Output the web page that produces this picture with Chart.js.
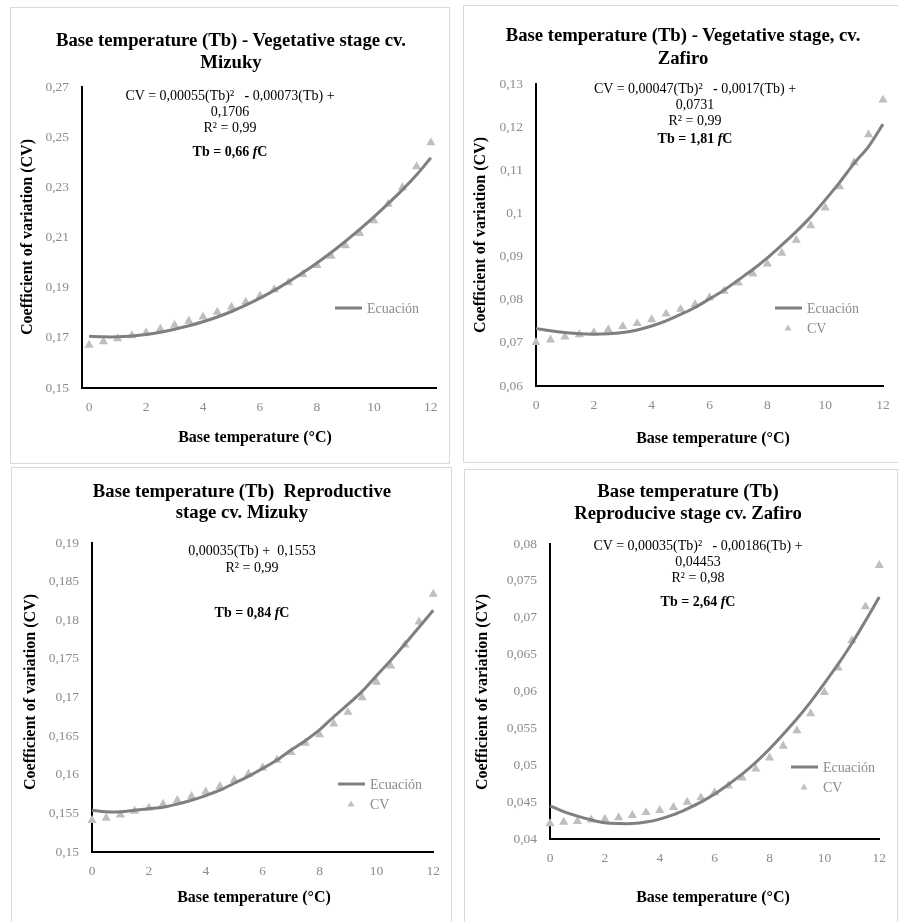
<!DOCTYPE html>
<html>
<head>
<meta charset="utf-8">
<script src="https://cdn.jsdelivr.net/npm/chart.js@4.4.0/dist/chart.umd.min.js"></script>
<style>
  html, body { margin: 0; padding: 0; background: #fff; }
  body {
    width: 898px; height: 922px; position: relative; overflow: hidden;
    font-family: "Liberation Serif", "Times New Roman", serif;
  }
  .panel { position: absolute; border: 1px solid #d9d9d9; box-sizing: border-box; background: #fff; }
  .panel canvas { position: absolute; left: 0; top: 0; }
  .txt { position: absolute; white-space: pre; transform: translate(-50%, -50%); color: #000; line-height: 1; }
  .title { font-size: 18.7px; font-weight: bold; }
  .axt { font-size: 16px; font-weight: bold; }
  .yaxt { transform: translate(-50%, -50%) rotate(-90deg); }
  .eq { font-size: 14px; }
  .tb { font-size: 14px; font-weight: bold; }
</style>
</head>
<body>

<div class="panel" id="box1"><canvas id="chart1"></canvas></div>
<div class="panel" id="box2"><canvas id="chart2"></canvas></div>
<div class="panel" id="box3"><canvas id="chart3"></canvas></div>
<div class="panel" id="box4"><canvas id="chart4"></canvas></div>

<script>
// Base temperatures (°C) on the x axis
const temps = [0, 0.5, 1, 1.5, 2, 2.5, 3, 3.5, 4, 4.5, 5, 5.5, 6, 6.5, 7, 7.5, 8, 8.5, 9, 9.5, 10, 10.5, 11, 11.5, 12];

// Vegetative stage, cv. Mizuky
const mizukyVegCV = [0.1671, 0.1685, 0.1697, 0.1709, 0.1720, 0.1735, 0.1751, 0.1767, 0.1784, 0.1803, 0.1823, 0.1843, 0.1867,
                     0.1892, 0.1920, 0.1953, 0.1989, 0.2026, 0.2068, 0.2117, 0.2167, 0.2233, 0.2299, 0.2383, 0.2478];
const mizukyVegEq = [0.1706, 0.1704, 0.1704, 0.1707, 0.1713, 0.1722, 0.1734, 0.1748, 0.1764, 0.1783, 0.1805, 0.1830, 0.1858,
                     0.1889, 0.1923, 0.1959, 0.1998, 0.2040, 0.2085, 0.2132, 0.2182, 0.2235, 0.2290, 0.2350, 0.2418];

// Vegetative stage, cv. Zafiro
const zafiroVegCV = [0.0701, 0.0707, 0.0714, 0.0719, 0.0724, 0.0731, 0.0738, 0.0745, 0.0754, 0.0767, 0.0778, 0.0789, 0.0805,
                     0.0820, 0.0839, 0.0860, 0.0883, 0.0908, 0.0938, 0.0972, 0.1013, 0.1062, 0.1118, 0.1183, 0.1263];
const zafiroVegEq = [0.0733, 0.0728, 0.0724, 0.0721, 0.0720, 0.0721, 0.0724, 0.0730, 0.0739, 0.0751, 0.0766, 0.0782, 0.0802,
                     0.0822, 0.0846, 0.0870, 0.0897, 0.0927, 0.0958, 0.0992, 0.1031, 0.1072, 0.1116, 0.1155, 0.1207];

// Reproductive stage, cv. Mizuky
const mizukyRepCV = [0.1541, 0.1544, 0.1548, 0.1553, 0.1557, 0.1562, 0.1567, 0.1572, 0.1578, 0.1585, 0.1593, 0.1601, 0.1609,
                     0.1619, 0.1629, 0.1641, 0.1652, 0.1666, 0.1681, 0.1700, 0.1720, 0.1741, 0.1768, 0.1798, 0.1834];
const mizukyRepEq = [0.1554, 0.1552, 0.1552, 0.1554, 0.1556, 0.1558, 0.1562, 0.1567, 0.1573, 0.1580, 0.1589, 0.1598, 0.1608,
                     0.1619, 0.1632, 0.1644, 0.1658, 0.1675, 0.1691, 0.1708, 0.1728, 0.1748, 0.1769, 0.1791, 0.1813];

// Reproductive stage, cv. Zafiro
const zafiroRepCV = [0.0421, 0.0423, 0.0424, 0.0426, 0.0427, 0.0429, 0.0432, 0.0436, 0.0439, 0.0443, 0.0450, 0.0456, 0.0463,
                     0.0472, 0.0483, 0.0495, 0.0510, 0.0526, 0.0547, 0.0570, 0.0599, 0.0632, 0.0669, 0.0715, 0.0771];
const zafiroRepEq = [0.0445, 0.0437, 0.0431, 0.0426, 0.0422, 0.0421, 0.0421, 0.0423, 0.0427, 0.0433, 0.0441, 0.0450, 0.0461,
                     0.0474, 0.0488, 0.0504, 0.0522, 0.0542, 0.0563, 0.0586, 0.0611, 0.0637, 0.0665, 0.0696, 0.0728];

const SERIF = '"Liberation Serif", "Times New Roman", serif';
const LINE_COLOR = '#7f7f7f';
const POINT_COLOR = '#bfbfbf';
const TICK_COLOR = '#8c8c8c';

/**
 * Small legend drawn inside the plot, Excel style
 */
const sideLegend = {
    id: 'sideLegend',
    afterDraw(chart, args, opts) {
        if (!opts || !opts.items) return;
        const ctx = chart.ctx;
        ctx.save();
        ctx.font = '14px ' + SERIF;
        ctx.textBaseline = 'middle';
        opts.items.forEach((idx, i) => {
            const ds = chart.data.datasets[idx];
            const y = opts.y + i * 20;
            if (ds.showLine === false) {
                const cx = opts.x + 13;
                ctx.fillStyle = ds.backgroundColor;
                ctx.beginPath();
                ctx.moveTo(cx, y - 3.5);
                ctx.lineTo(cx + 3.5, y + 2.5);
                ctx.lineTo(cx - 3.5, y + 2.5);
                ctx.closePath();
                ctx.fill();
            } else {
                ctx.strokeStyle = ds.borderColor;
                ctx.lineWidth = ds.borderWidth;
                ctx.beginPath();
                ctx.moveTo(opts.x, y);
                ctx.lineTo(opts.x + 27, y);
                ctx.stroke();
            }
            ctx.fillStyle = TICK_COLOR;
            ctx.fillText(ds.label, opts.x + 32, y + 1);
        });
        ctx.restore();
    }
};

const fmt = v => String(+Number(v).toFixed(4)).replace('.', ',');

const panels = [
    { id: 1, box: [10, 7, 440, 457], area: [82, 87, 436, 388], x: [-0.25, 12.18], y: [0.15, 0.27, 0.02],
      cv: mizukyVegCV, eq: mizukyVegEq, legend: { x: 335, y: 308, items: [0] } },
    { id: 2, box: [463, 5, 442, 458], area: [536, 84, 883, 386], x: [0, 12], y: [0.06, 0.13, 0.01],
      cv: zafiroVegCV, eq: zafiroVegEq, legend: { x: 775, y: 308, items: [0, 1] } },
    { id: 3, box: [11, 467, 441, 470], area: [92, 543, 435, 852], x: [0, 12], y: [0.15, 0.19, 0.005],
      cv: mizukyRepCV, eq: mizukyRepEq, legend: { x: 338, y: 784, items: [0, 1] } },
    { id: 4, box: [464, 469, 434, 470], area: [550, 544, 882, 839], x: [0, 12], y: [0.04, 0.08, 0.005],
      cv: zafiroRepCV, eq: zafiroRepEq, legend: { x: 791, y: 767, items: [0, 1] } }
];

function makeChart(p) {
    const [bl, bt, bw, bh] = p.box;
    const box = document.getElementById('box' + p.id);
    Object.assign(box.style, { left: bl + 'px', top: bt + 'px', width: bw + 'px', height: bh + 'px' });

    const il = bl + 1, it = bt + 1;
    const cw = bw - 2, ch = bh - 2;
    const canvas = document.getElementById('chart' + p.id);
    canvas.width = cw;
    canvas.height = ch;

    const yW = 60, xH = 40;
    const [al, at, ar, ab] = p.area;
    const padding = {
        left: al - il - yW,
        top: at - it,
        right: cw - (ar - il),
        bottom: ch - (ab - it) - xH
    };

    const tickFont = { family: SERIF, size: 13.5 };

    return new Chart(canvas, {
        type: 'line',
        data: {
            datasets: [{
                label: 'Ecuación',
                data: temps.map((t, i) => ({ x: t, y: p.eq[i] })),
                borderColor: LINE_COLOR,
                borderWidth: 3,
                pointRadius: 0,
                tension: 0.3,
                clip: false
            }, {
                label: 'CV',
                data: temps.map((t, i) => ({ x: t, y: p.cv[i] })),
                showLine: false,
                pointStyle: 'triangle',
                pointRadius: 5.3,
                backgroundColor: POINT_COLOR,
                borderColor: POINT_COLOR,
                borderWidth: 0,
                clip: false
            }]
        },
        options: {
            responsive: false,
            animation: false,
            events: [],
            layout: { padding },
            scales: {
                x: {
                    type: 'linear',
                    min: p.x[0],
                    max: p.x[1],
                    grid: { display: false, drawTicks: false },
                    border: { display: true, color: '#000', width: 2 },
                    ticks: {
                        stepSize: 2, includeBounds: false, padding: 11, autoSkip: false, maxRotation: 0,
                        color: TICK_COLOR, font: tickFont, callback: v => fmt(v)
                    },
                    afterFit: s => { s.height = xH; }
                },
                y: {
                    type: 'linear',
                    min: p.y[0],
                    max: p.y[1],
                    grid: { display: false, drawTicks: false },
                    border: { display: true, color: '#000', width: 2 },
                    ticks: {
                        stepSize: p.y[2], padding: 13, autoSkip: false,
                        color: TICK_COLOR, font: tickFont, callback: v => fmt(v)
                    },
                    afterFit: s => { s.width = yW; }
                }
            },
            plugins: {
                legend: { display: false },
                tooltip: { enabled: false },
                sideLegend: {
                    x: p.legend.x - il,
                    y: p.legend.y - it,
                    items: p.legend.items
                }
            }
        },
        plugins: [sideLegend]
    });
}

panels.forEach(makeChart);

// Titles, axis titles and fit annotations as HTML text
const texts = [
    // panel 1
    [231, 40, 'title', 'Base temperature (Tb) - Vegetative stage cv.'],
    [231, 62, 'title', 'Mizuky'],
    [230, 96, 'eq', 'CV = 0,00055(Tb)²   <b>-</b> 0,00073(Tb) +'],
    [230, 112, 'eq', '0,1706'],
    [230, 128, 'eq', 'R² = 0,99'],
    [230, 152, 'tb', 'Tb = 0,66 <i>f</i>C'],
    [255, 437, 'axt', 'Base temperature (°C)'],
    [27, 237, 'axt yaxt', 'Coefficient of variation (CV)'],
    // panel 2
    [683, 35, 'title', 'Base temperature (Tb) - Vegetative stage, cv.'],
    [683, 58, 'title', 'Zafiro'],
    [695, 89, 'eq', 'CV = 0,00047(Tb)²   <b>-</b> 0,0017(Tb) +'],
    [695, 105, 'eq', '0,0731'],
    [695, 121, 'eq', 'R² = 0,99'],
    [695, 139, 'tb', 'Tb = 1,81 <i>f</i>C'],
    [713, 438, 'axt', 'Base temperature (°C)'],
    [480, 235, 'axt yaxt', 'Coefficient of variation (CV)'],
    // panel 3
    [242, 491, 'title', 'Base temperature (Tb)  Reproductive'],
    [242, 512, 'title', 'stage cv. Mizuky'],
    [252, 551, 'eq', '0,00035(Tb) +  0,1553'],
    [252, 568, 'eq', 'R² = 0,99'],
    [252, 613, 'tb', 'Tb = 0,84 <i>f</i>C'],
    [254, 897, 'axt', 'Base temperature (°C)'],
    [30, 692, 'axt yaxt', 'Coefficient of variation (CV)'],
    // panel 4
    [688, 491, 'title', 'Base temperature (Tb)'],
    [688, 513, 'title', 'Reproducive stage cv. Zafiro'],
    [698, 546, 'eq', 'CV = 0,00035(Tb)²   <b>-</b> 0,00186(Tb) +'],
    [698, 562, 'eq', '0,04453'],
    [698, 578, 'eq', 'R² = 0,98'],
    [698, 602, 'tb', 'Tb = 2,64 <i>f</i>C'],
    [713, 897, 'axt', 'Base temperature (°C)'],
    [482, 692, 'axt yaxt', 'Coefficient of variation (CV)']
];

texts.forEach(([x, y, cls, html]) => {
    const el = document.createElement('div');
    el.className = 'txt ' + cls;
    el.style.left = x + 'px';
    el.style.top = y + 'px';
    el.innerHTML = html;
    document.body.appendChild(el);
});
</script>
</body>
</html>
